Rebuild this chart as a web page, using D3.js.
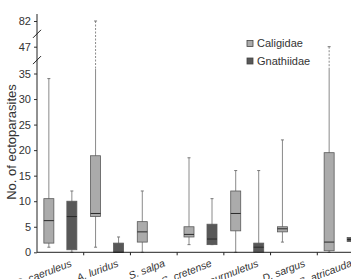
<html>
<head>
<script src="https://d3js.org/d3.v7.min.js"></script>
<style>
body { margin:0; background:#fff; }
svg { font-family: "Liberation Sans", Arial, sans-serif; }
</style>
</head>
<body>
<script>
var width = 351;
var height = 279;

// data
var species = ["C. caeruleus", "A. luridus", "S. salpa", "S. cretense", "M. surmuletus", "D. sargus", "S. atricauda"];
var groups = ["Caligidae", "Gnathiidae"];
// [min, q1, median, q3, max], null = no data
var caligidae = [
  [1, 1.8, 6.2, 10.5, 34],
  [1, 7, 7.6, 18.9, 82],
  [0, 2, 4, 6, 12],
  [1.5, 3, 3.5, 5, 18.5],
  [0, 4.2, 7.6, 12, 16],
  [2, 4, 4.6, 5, 22],
  [0, 0.3, 2, 19.5, 47]
];
var gnathiidae = [
  [0, 0.5, 7, 10, 12],
  [0, 0, 0, 1.8, 3],
  null,
  [1.5, 1.5, 2.6, 5.5, 10.5],
  [0, 0, 1, 1.8, 16],
  null,
  [2.1, 2.1, 2.5, 2.9, 2.9]
];
var yTicks = [0, 5, 10, 15, 20, 25, 30, 35, 47, 82];
var breaks = [41, 64.5];
var dashFrom = 37;

var colors = {"Caligidae": "#ababab", "Gnathiidae": "#585858"};

var svg = d3.select("body").append("svg")
    .attr("width", width)
    .attr("height", height);

var x = d3.scaleBand()
    .domain(species)
    .range([37, 364]);

var y = d3.scaleLinear()
    .domain([0, 35, 47, 82])
    .range([252.3, 73.5, 46.7, 21]);

var off = {"Caligidae": -11.5, "Gnathiidae": 11.5};
var bw = 10;

var rows = [];
species.forEach(function(s, i) {
  if (caligidae[i]) rows.push({sp: s, g: "Caligidae", v: caligidae[i]});
  if (gnathiidae[i]) rows.push({sp: s, g: "Gnathiidae", v: gnathiidae[i]});
});

var box = svg.append("g").selectAll("g")
  .data(rows)
  .enter().append("g")
  .attr("transform", function(d) {
    return "translate(" + (x(d.sp) + x.bandwidth() / 2 + off[d.g]) + ",0)";
  });

// whiskers (solid part)
box.append("line")
  .attr("x1", 0).attr("x2", 0)
  .attr("y1", function(d) { return y(Math.min(d.v[4], dashFrom)); })
  .attr("y2", function(d) { return y(d.v[0]); })
  .attr("stroke", "#8a8a8a").attr("stroke-width", 1);
// whisker across axis break
box.filter(function(d) { return d.v[4] > dashFrom; })
  .append("line")
  .attr("x1", 0).attr("x2", 0)
  .attr("y1", function(d) { return y(d.v[4]); })
  .attr("y2", function(d) { return y(dashFrom); })
  .attr("stroke", "#8a8a8a").attr("stroke-width", 1)
  .attr("stroke-dasharray", "2,1.5");
// caps
box.selectAll(".cap")
  .data(function(d) { return [d.v[0], d.v[4]]; })
  .enter().append("line")
  .attr("x1", -1.5).attr("x2", 1.5)
  .attr("y1", function(v) { return y(v); })
  .attr("y2", function(v) { return y(v); })
  .attr("stroke", "#777");

box.append("rect")
  .attr("x", -bw / 2)
  .attr("width", bw)
  .attr("y", function(d) { return y(d.v[3]); })
  .attr("height", function(d) { return Math.max(y(d.v[1]) - y(d.v[3]), 0.5); })
  .attr("fill", function(d) { return colors[d.g]; })
  .attr("stroke", "#5a5a5a")
  .attr("stroke-width", 0.8);

box.append("line")
  .attr("x1", -bw / 2).attr("x2", bw / 2)
  .attr("y1", function(d) { return y(d.v[2]); })
  .attr("y2", function(d) { return y(d.v[2]); })
  .attr("stroke", "#2a2a2a").attr("stroke-width", 1);

// y axis
var yAxis = svg.append("g")
  .attr("transform", "translate(37,0)")
  .call(d3.axisLeft(y).tickValues(yTicks).tickSize(3).tickPadding(3));
yAxis.select(".domain").remove();
yAxis.selectAll("text").attr("font-size", 11).attr("fill", "#333").attr("font-family", "Liberation Sans, Arial, sans-serif");
yAxis.selectAll("line").attr("stroke", "#333");
svg.append("line")
  .attr("x1", 37).attr("x2", 37)
  .attr("y1", 14).attr("y2", y(0))
  .attr("stroke", "#222");

// break marks
svg.append("g").selectAll("line")
  .data(breaks)
  .enter().append("line")
  .attr("x1", 33).attr("x2", 41)
  .attr("y1", function(v) { return y(v) + 4; })
  .attr("y2", function(v) { return y(v) - 4; })
  .attr("stroke", "#222");

// x axis
svg.append("line")
  .attr("x1", 37).attr("x2", 364)
  .attr("y1", y(0)).attr("y2", y(0))
  .attr("stroke", "#222");
svg.append("g").selectAll("line")
  .data(species.slice(1))
  .enter().append("line")
  .attr("x1", function(d) { return x(d); })
  .attr("x2", function(d) { return x(d); })
  .attr("y1", y(0)).attr("y2", y(0) + 3)
  .attr("stroke", "#222");

svg.append("g").selectAll("text")
  .data(species)
  .enter().append("text")
  .attr("transform", function(d) {
    return "translate(" + (x(d) + x.bandwidth() / 2 + 12) + ",266) rotate(-21)";
  })
  .attr("text-anchor", "end")
  .attr("font-size", 10.5)
  .attr("font-style", "italic")
  .attr("fill", "#333")
  .text(function(d) { return d; });

svg.append("text")
  .attr("transform", "translate(16,142) rotate(-90)")
  .attr("text-anchor", "middle")
  .attr("font-size", 13)
  .attr("fill", "#333")
  .text("No. of ectoparasites");

// legend
var legend = svg.append("g").selectAll("g")
  .data(groups)
  .enter().append("g")
  .attr("transform", function(d, i) { return "translate(247," + (43.5 + i * 17.5) + ")"; });
legend.append("rect")
  .attr("x", 0).attr("y", -3)
  .attr("width", 6).attr("height", 6)
  .attr("fill", function(d) { return colors[d]; })
  .attr("stroke", "#444").attr("stroke-width", 0.8);
legend.append("text")
  .attr("x", 10).attr("dy", "0.35em")
  .attr("font-size", 11)
  .attr("fill", "#333")
  .text(function(d) { return d; });
</script>
</body>
</html>
